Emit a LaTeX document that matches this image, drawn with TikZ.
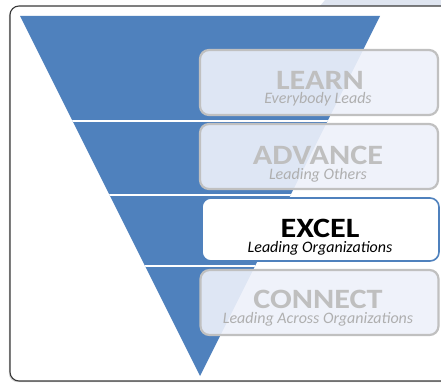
\documentclass[tikz,border=0pt]{standalone}
\usepackage{fontspec}
\usepackage{graphicx}
\setmainfont{Carlito}
\usetikzlibrary{shadows}
\definecolor{funnelblue}{RGB}{79,129,189}
\definecolor{dimgraytxt}{RGB}{191,191,191}
\definecolor{dimsubtxt}{RGB}{175,175,175}
\definecolor{boxline}{RGB}{192,192,192}
\definecolor{boxfill}{RGB}{238,241,250}
\definecolor{bandcol}{RGB}{223,229,240}
\newcommand{\widecaps}[1]{\scalebox{1.15}[1]{#1}}
\tikzset{
  frame/.style={draw={rgb,255:red,58;green,58;blue,58}, line width=1.1pt, rounded corners=9pt,
    fill=white, drop shadow={shadow xshift=-1.2pt, shadow yshift=-1.2pt, opacity=0.35}},
  funnel/.style={fill=funnelblue},
  sepline/.style={draw=white, line width=1.8pt},
  tierbox/.style={draw=boxline, line width=2.2pt, rounded corners=9pt, fill=boxfill,
    fill opacity=0.9, minimum width=238pt, minimum height=65pt, inner sep=0pt},
  activebox/.style={draw=funnelblue, line width=1.6pt, rounded corners=9pt, fill=white,
    minimum width=237pt, minimum height=63pt, inner sep=0pt},
  tiertitle/.style={anchor=base, inner sep=0pt, text height=18pt, text depth=0pt,
    font=\fontsize{28}{28}\selectfont\bfseries},
  tiersub/.style={anchor=base, inner sep=0pt, text height=10pt, text depth=3pt,
    font=\fontsize{16}{16}\selectfont\itshape},
}
\begin{document}
\begin{tikzpicture}[x=1pt,y=1pt]
\useasboundingbox (0,0) rectangle (441,384);
% light band along the top edge
\fill[bandcol] (325,384) -- (441,384) -- (441,378) -- (320,378) -- cycle;
% outer frame
\path[frame] (10,3) rectangle (452,378);
% inverted funnel
\fill[funnel] (20,368) -- (380,368) -- (200,8) -- cycle;
\begin{scope}
  \clip (20,368) -- (380,368) -- (200,8) -- cycle;
  \draw[sepline] (0,263) -- (441,263);
  \draw[sepline] (0,189) -- (441,189);
  \draw[sepline] (0,118) -- (441,118);
\end{scope}
% tier boxes
\node[tierbox] (learn) at (319,301.5) {};
\node[tierbox] (advance) at (319,227.5) {};
\node[activebox] (excel) at (320.5,154.5) {};
\node[tierbox] (connect) at (319.5,81.5) {};
% tier labels
\node[tiertitle, text=dimgraytxt] (learnT) at (320,295) {\widecaps{LEARN}};
\node[tiersub, text=dimsubtxt] (learnS) at (318,281) {Everybody Leads};
\node[tiertitle, text=dimgraytxt] (advanceT) at (318,220) {\widecaps{ADVANCE}};
\node[tiersub, text=dimsubtxt] (advanceS) at (318,205) {Leading Others};
\node[tiertitle, text=black] (excelT) at (320,147) {\widecaps{EXCEL}};
\node[tiersub, text=black] (excelS) at (320,132) {Leading Organizations};
\node[tiertitle, text=dimgraytxt] (connectT) at (318,76) {\widecaps{CONNECT}};
\node[tiersub, text=dimsubtxt] (connectS) at (318,61) {Leading Across Organizations};
\end{tikzpicture}
\end{document}
